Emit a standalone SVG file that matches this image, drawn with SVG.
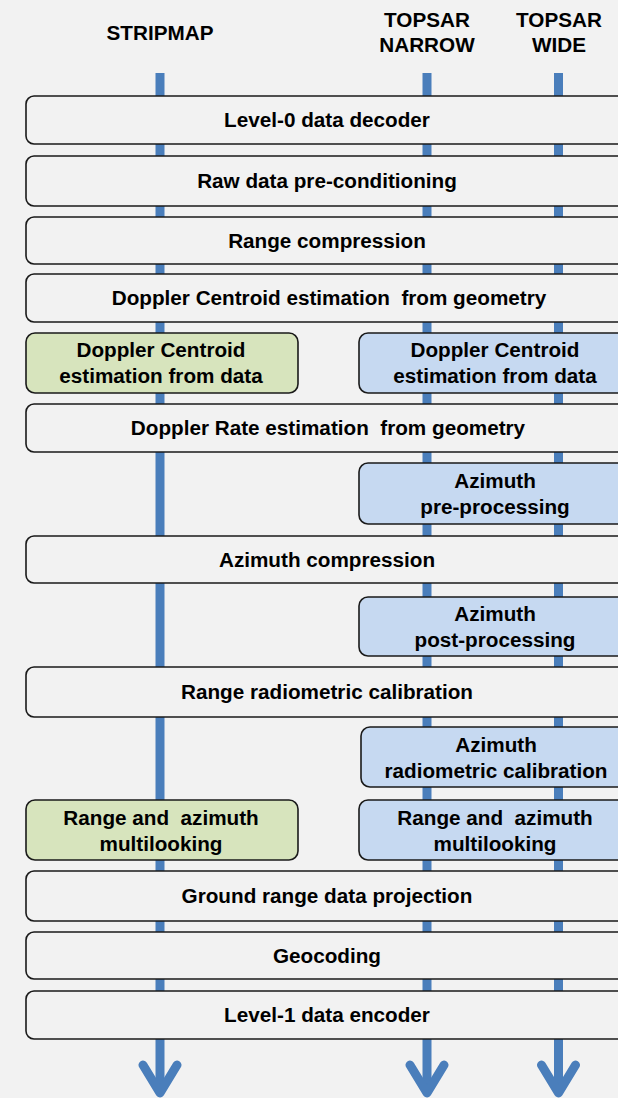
<svg xmlns="http://www.w3.org/2000/svg" width="618" height="1098" viewBox="0 0 618 1098">
<style>
.bg{fill:#f2f2f2}
.box{fill:#f2f2f2;stroke:#1a1a1a;stroke-width:1.6}
.green{fill:#d7e4bd;stroke:#1a1a1a;stroke-width:1.6}
.blue{fill:#c6d9f1;stroke:#1a1a1a;stroke-width:1.6}
.flow{stroke:#4a7ebb;stroke-width:9;fill:none}
.head{stroke:#4a7ebb;stroke-width:9;fill:none;stroke-linecap:round;stroke-linejoin:round}
text{font-family:"Liberation Sans",Arial,sans-serif;font-weight:bold;font-size:20.7px;fill:#000;text-anchor:middle;white-space:pre}
</style>
<rect class="bg" x="0" y="0" width="618" height="1098"/>
<g id="headers">
<text x="160" y="40">STRIPMAP</text>
<text x="427" y="27">TOPSAR</text>
<text x="427" y="52">NARROW</text>
<text x="559" y="27">TOPSAR</text>
<text x="559" y="52">WIDE</text>
</g>
<g id="connectors">
<line class="flow" x1="160" y1="73" x2="160" y2="1093"/>
<line class="flow" x1="427" y1="73" x2="427" y2="1093"/>
<line class="flow" x1="558.5" y1="73" x2="558.5" y2="1093"/>
<path class="head" d="M143,1065 L160,1093 L177,1065"/>
<path class="head" d="M410,1065 L427,1093 L444,1065"/>
<path class="head" d="M541.5,1065 L558.5,1093 L575.5,1065"/>
</g>
<g id="n1"><rect class="box" x="26" y="96" width="602" height="48" rx="8"/><text x="327" y="127">Level-0 data decoder</text></g>
<g id="n2"><rect class="box" x="26" y="156" width="602" height="50" rx="8"/><text x="327" y="188">Raw data pre-conditioning</text></g>
<g id="n3"><rect class="box" x="26" y="217" width="602" height="47" rx="8"/><text x="327" y="248">Range compression</text></g>
<g id="n4"><rect class="box" x="26" y="274" width="602" height="48" rx="8"/><text x="329" y="305">Doppler Centroid estimation  from geometry</text></g>
<g id="n5a"><rect class="green" x="26" y="333" width="272" height="60" rx="9"/><text x="161" y="357">Doppler Centroid</text><text x="161" y="383">estimation from data</text></g>
<g id="n5b"><rect class="blue" x="359" y="333" width="272" height="60" rx="9"/><text x="495" y="357">Doppler Centroid</text><text x="495" y="383">estimation from data</text></g>
<g id="n6"><rect class="box" x="26" y="404" width="602" height="48" rx="8"/><text x="328" y="435">Doppler Rate estimation  from geometry</text></g>
<g id="n7"><rect class="blue" x="359" y="463" width="272" height="61" rx="9"/><text x="495" y="488">Azimuth</text><text x="495" y="514">pre-processing</text></g>
<g id="n8"><rect class="box" x="26" y="536" width="602" height="47" rx="8"/><text x="327" y="567">Azimuth compression</text></g>
<g id="n9"><rect class="blue" x="359" y="597" width="272" height="59" rx="9"/><text x="495" y="621">Azimuth</text><text x="495" y="647">post-processing</text></g>
<g id="n10"><rect class="box" x="26" y="667" width="602" height="50" rx="8"/><text x="327" y="699">Range radiometric calibration</text></g>
<g id="n11"><rect class="blue" x="361" y="727" width="270" height="60" rx="9"/><text x="496" y="752">Azimuth</text><text x="496" y="778">radiometric calibration</text></g>
<g id="n12a"><rect class="green" x="26" y="800" width="272" height="60" rx="9"/><text x="161" y="825">Range and  azimuth</text><text x="161" y="851">multilooking</text></g>
<g id="n12b"><rect class="blue" x="359" y="800" width="272" height="60" rx="9"/><text x="495" y="825">Range and  azimuth</text><text x="495" y="851">multilooking</text></g>
<g id="n13"><rect class="box" x="26" y="871" width="602" height="50" rx="8"/><text x="327" y="903">Ground range data projection</text></g>
<g id="n14"><rect class="box" x="26" y="932" width="602" height="47" rx="8"/><text x="327" y="963">Geocoding</text></g>
<g id="n15"><rect class="box" x="26" y="991" width="602" height="48" rx="8"/><text x="327" y="1022">Level-1 data encoder</text></g>
</svg>
